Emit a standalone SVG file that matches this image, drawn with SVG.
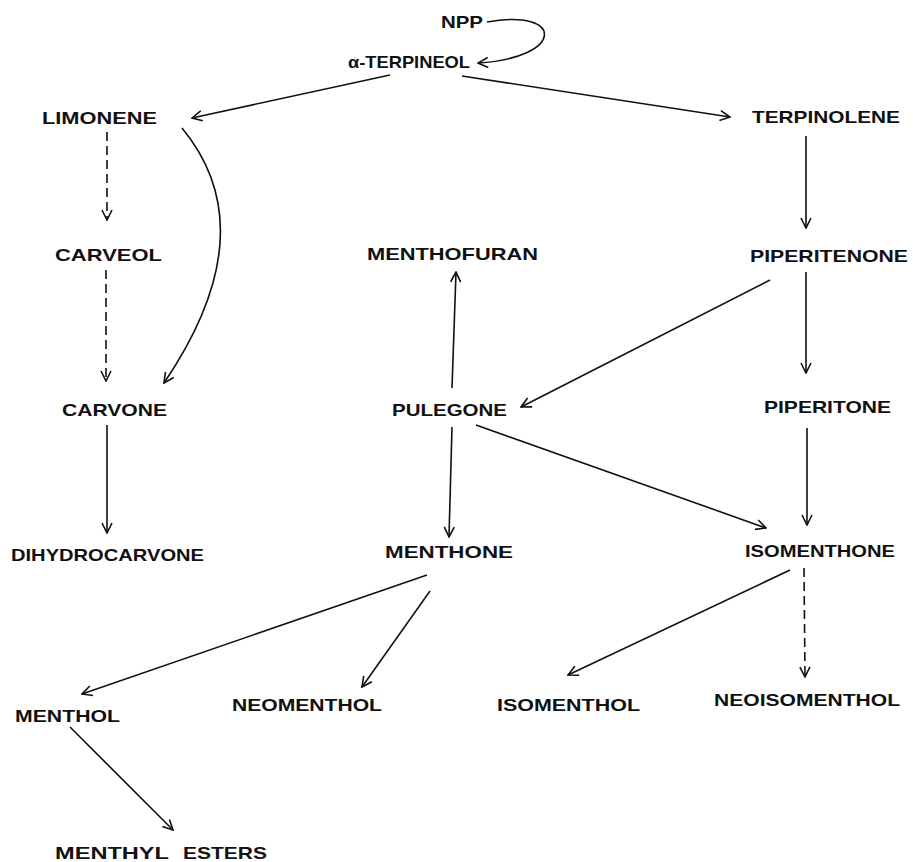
<svg xmlns="http://www.w3.org/2000/svg" width="913" height="862" viewBox="0 0 913 862">
<defs>
<style>
.lbl{font-family:"Liberation Sans",Arial,sans-serif;font-weight:bold;font-size:17px;fill:#111;}
.c{fill:none;stroke:#111;stroke-width:1.6;marker-end:url(#ah);}
.d{stroke-dasharray:9 5;}
</style>
<marker id="ah" viewBox="0 0 12 12" refX="11" refY="6" markerWidth="12" markerHeight="12" markerUnits="userSpaceOnUse" orient="auto">
<path d="M1,1 L11,6 L1,11" fill="none" stroke="#111" stroke-width="1.6"/>
</marker>
</defs>
<rect width="913" height="862" fill="#fff"/>
<g id="connectors">
<path class="c" d="M487,22 C565,8 565,58 478,63"/>
<path class="c" d="M390,75 L192,118"/>
<path class="c" d="M462,76 L730,117"/>
<path class="c d" d="M107,132 L107,220"/>
<path class="c d" d="M106,270 L106,381"/>
<path class="c" d="M182,128 Q267,231 164,383"/>
<path class="c" d="M107,425 L107,533"/>
<path class="c" d="M452,388 L456,272"/>
<path class="c" d="M452,427 L449,537"/>
<path class="c" d="M806,136 L806,228"/>
<path class="c" d="M770,280 L521,407"/>
<path class="c" d="M806,272 L806,373"/>
<path class="c" d="M807,428 L807,525"/>
<path class="c" d="M476,425 L766,528"/>
<path class="c" d="M427,575 L82,694"/>
<path class="c" d="M430,591 L362,687"/>
<path class="c" d="M70,727 L173,830"/>
<path class="c" d="M790,570 L568,675"/>
<path class="c d" d="M804,568 L805,677"/>
</g>
<g id="npp"><text class="lbl" x="441" y="28" textLength="42" lengthAdjust="spacingAndGlyphs">NPP</text></g>
<g id="terpineol"><text class="lbl" x="348" y="68" textLength="122" lengthAdjust="spacingAndGlyphs">α-TERPINEOL</text></g>
<g id="limonene"><text class="lbl" x="42" y="124" textLength="115" lengthAdjust="spacingAndGlyphs">LIMONENE</text></g>
<g id="terpinolene"><text class="lbl" x="752" y="123" textLength="148" lengthAdjust="spacingAndGlyphs">TERPINOLENE</text></g>
<g id="carveol"><text class="lbl" x="55" y="261" textLength="107" lengthAdjust="spacingAndGlyphs">CARVEOL</text></g>
<g id="menthofuran"><text class="lbl" x="367" y="260" textLength="171" lengthAdjust="spacingAndGlyphs">MENTHOFURAN</text></g>
<g id="piperitenone"><text class="lbl" x="750" y="262" textLength="158" lengthAdjust="spacingAndGlyphs">PIPERITENONE</text></g>
<g id="carvone"><text class="lbl" x="62" y="416" textLength="105" lengthAdjust="spacingAndGlyphs">CARVONE</text></g>
<g id="pulegone"><text class="lbl" x="392" y="416" textLength="115" lengthAdjust="spacingAndGlyphs">PULEGONE</text></g>
<g id="piperitone"><text class="lbl" x="764" y="413" textLength="127" lengthAdjust="spacingAndGlyphs">PIPERITONE</text></g>
<g id="dihydrocarvone"><text class="lbl" x="11" y="561" textLength="193" lengthAdjust="spacingAndGlyphs">DIHYDROCARVONE</text></g>
<g id="menthone"><text class="lbl" x="385" y="558" textLength="128" lengthAdjust="spacingAndGlyphs">MENTHONE</text></g>
<g id="isomenthone"><text class="lbl" x="745" y="557" textLength="150" lengthAdjust="spacingAndGlyphs">ISOMENTHONE</text></g>
<g id="menthol"><text class="lbl" x="15" y="722" textLength="105" lengthAdjust="spacingAndGlyphs">MENTHOL</text></g>
<g id="neomenthol"><text class="lbl" x="232" y="711" textLength="150" lengthAdjust="spacingAndGlyphs">NEOMENTHOL</text></g>
<g id="isomenthol"><text class="lbl" x="497" y="711" textLength="143" lengthAdjust="spacingAndGlyphs">ISOMENTHOL</text></g>
<g id="neoisomenthol"><text class="lbl" x="714" y="706" textLength="186" lengthAdjust="spacingAndGlyphs">NEOISOMENTHOL</text></g>
<g id="menthyl_esters"><text class="lbl" x="55" y="859" textLength="114" lengthAdjust="spacingAndGlyphs">MENTHYL</text><text class="lbl" x="183" y="859" textLength="84" lengthAdjust="spacingAndGlyphs">ESTERS</text></g>
</svg>
